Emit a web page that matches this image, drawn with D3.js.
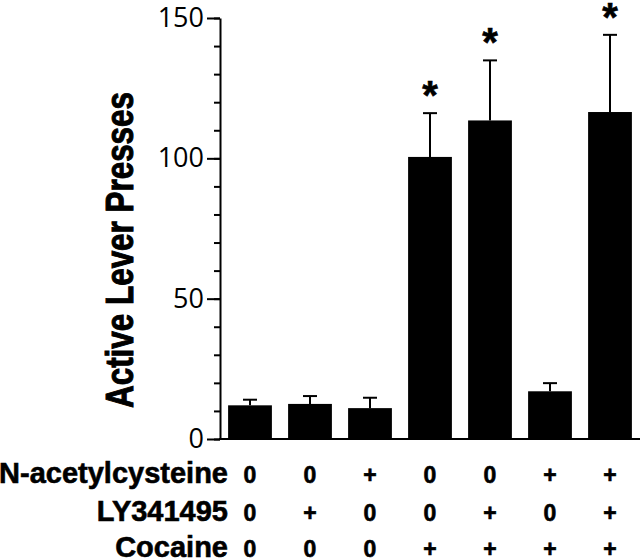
<!DOCTYPE html>
<html>
<head>
<meta charset="utf-8">
<script src="https://cdn.jsdelivr.net/npm/d3@7"></script>
<style>
  body { margin: 0; background: #fff; }
  svg { display: block; }
  .tick-label { font-family: "Open Sans", "Liberation Sans", sans-serif; font-size: 27px; }
  .row-label, .cell { font-family: "Liberation Sans", Arial, sans-serif; font-weight: bold; }
</style>
</head>
<body>
<svg id="chart" width="640" height="560"></svg>
<script>
const nac = ['0', '0', '+', '0', '0', '+', '+']
const ly = ['0', '+', '0', '0', '+', '0', '+']
const cocaine = ['0', '0', '0', '+', '+', '+', '+']
const means = [12, 12.5, 11, 100.5, 113.5, 17, 116.5]
const sems = [2, 2.8, 3.7, 15.6, 21.4, 2.9, 27.5]
const significant = [false, false, false, true, true, false, true]
const yMajorTicks = [0, 50, 100, 150]
const yMinorTicks = d3.range(0, 151, 10)
const rowNames = ['N-acetylcysteine', 'LY341495', 'Cocaine']

function drawChart() {
    const chart = d3.select('#chart')
    const groups = means.map((_, i) => i)

    const x = d3.scaleBand()
        .domain(groups)
        .range([220, 640])
        .paddingInner(0.27)
        .paddingOuter(0.135)

    const y = d3.scaleLinear()
        .domain([0, 150])
        .range([439, 18])

    // bars
    chart.selectAll()
        .data(groups)
        .enter()
        .append('rect')
        .attr('x', i => x(i))
        .attr('y', i => y(means[i]))
        .attr('width', x.bandwidth())
        .attr('height', i => y(0) - y(means[i]))
        .attr('fill', '#000')

    // error bars (upper only)
    const err = chart.selectAll()
        .data(groups)
        .enter()
        .append('g')
        .attr('stroke', '#000')
        .attr('stroke-width', 2)
    err.append('line')
        .attr('x1', i => x(i) + x.bandwidth() / 2)
        .attr('x2', i => x(i) + x.bandwidth() / 2)
        .attr('y1', i => y(means[i]))
        .attr('y2', i => y(means[i] + sems[i]))
    err.append('line')
        .attr('x1', i => x(i) + x.bandwidth() / 2 - 7)
        .attr('x2', i => x(i) + x.bandwidth() / 2 + 7)
        .attr('y1', i => y(means[i] + sems[i]))
        .attr('y2', i => y(means[i] + sems[i]))

    // asterisks
    chart.selectAll()
        .data(groups.filter(i => significant[i]))
        .enter()
        .append('text')
        .attr('class', 'cell')
        .attr('x', i => x(i) + x.bandwidth() / 2)
        .attr('y', i => y(means[i] + sems[i]) - 4)
        .attr('text-anchor', 'middle')
        .attr('font-size', 40)
        .attr('stroke', '#000')
        .attr('stroke-width', 0.6)
        .text('*')

    // y axis: minor ticks then major ticks with labels
    chart.append('g')
        .attr('transform', 'translate(220,0)')
        .call(d3.axisLeft(y).tickValues(yMinorTicks).tickSize(6).tickSizeOuter(0).tickFormat(''))
        .call(g => g.select('.domain').remove())
        .selectAll('line').attr('stroke-width', 2)

    const yAxis = chart.append('g')
        .attr('transform', 'translate(220,0)')
        .call(d3.axisLeft(y).tickValues(yMajorTicks).tickSize(13).tickSizeOuter(0).tickPadding(3))
    yAxis.select('.domain').attr('stroke-width', 2)
    yAxis.selectAll('line').attr('stroke-width', 2)
    yAxis.selectAll('text')
        .attr('class', 'tick-label')
        .attr('fill', '#000')
    yAxis.attr('font-size', null).attr('font-family', null)

    // x axis baseline
    chart.append('g')
        .attr('transform', `translate(0,${y(0)})`)
        .call(d3.axisBottom(x).tickSize(0).tickFormat(''))
        .call(g => g.select('.domain').attr('stroke-width', 2).attr('d', 'M219,0H640'))

    // y title
    chart.append('text')
        .attr('class', 'row-label')
        .attr('transform', 'translate(133,250) rotate(-90)')
        .attr('text-anchor', 'middle')
        .attr('font-size', 38)
        .attr('textLength', 316)
        .attr('lengthAdjust', 'spacingAndGlyphs')
        .attr('stroke', '#000')
        .attr('stroke-width', 1)
        .text('Active Lever Presses')

    // treatment table
    const rows = [nac, ly, cocaine]
    const baselines = [483, 521, 557]
    rows.forEach((row, r) => {
        chart.append('text')
            .attr('class', 'row-label')
            .attr('x', 228)
            .attr('y', baselines[r])
            .attr('text-anchor', 'end')
            .attr('font-size', 29)
            .attr('stroke', '#000')
            .attr('stroke-width', 0.6)
            .text(rowNames[r])
        chart.selectAll()
            .data(row)
            .enter()
            .append('text')
            .attr('class', 'cell')
            .attr('x', (d, i) => x(i) + x.bandwidth() / 2)
            .attr('y', baselines[r])
            .attr('text-anchor', 'middle')
            .attr('font-size', 23)
            .attr('stroke', '#000')
            .attr('stroke-width', 0.6)
            .text(d => d)
    })
}

drawChart()
</script>
</body>
</html>
